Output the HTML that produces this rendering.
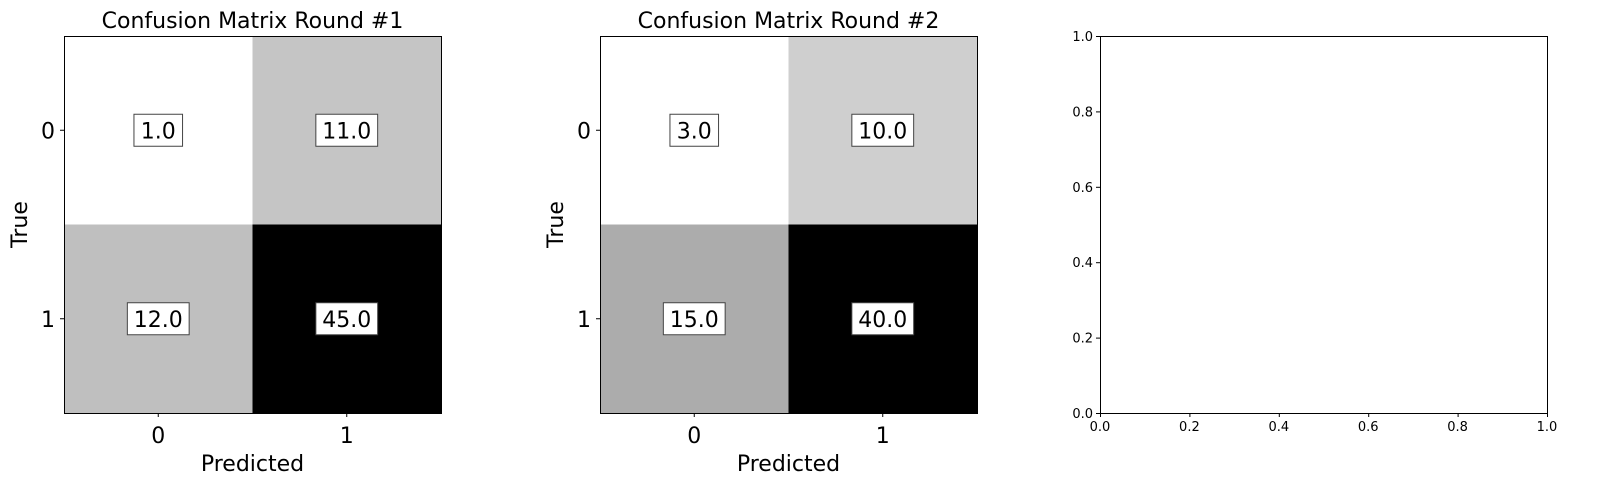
<!DOCTYPE html>
<html><head><meta charset="utf-8"><style>
body{margin:0;background:#fff;}
svg{display:block;font-family:"DejaVu Sans","Liberation Sans",sans-serif;}
</style></head><body>
<svg id="fig" width="1600" height="495" viewBox="0 0 1600 495" xmlns="http://www.w3.org/2000/svg"></svg>
<script>
const titles = ["Confusion Matrix Round #1", "Confusion Matrix Round #2"];
const classLabels = ["0", "1"];
const matrix1 = [[1, 11], [12, 45]];
const matrix2 = [[3, 10], [15, 40]];
const emptyTicks = [0.0, 0.2, 0.4, 0.6, 0.8, 1.0];

const NS = "http://www.w3.org/2000/svg";
const svg = document.getElementById("fig");
function mk(tag, attrs, parent, text) {
  const e = document.createElementNS(NS, tag);
  for (const k in attrs) e.setAttribute(k, attrs[k]);
  if (text !== undefined) e.textContent = text;
  (parent || svg).appendChild(e);
  return e;
}
const FS = 22;
function drawMatrix(m, title, x0, idx) {
  const y0 = 36, size = 377, n = m.length;
  const g = mk("g", {});
  
  
  const flat = m.flat();
  const mn = Math.min(...flat), mx = Math.max(...flat);
  const cell = size / n;
  const xs = c => x0 + (c + 0.5) * cell;
  const ys = r => y0 + (r + 0.5) * cell;
  for (let r = 0; r < n; r++) for (let c = 0; c < n; c++) {
    const t = (m[r][c] - mn) / (mx - mn);
    const v = Math.round(255 * (1 - t));
    const rect = mk("rect", {x: xs(c) - cell / 2, y: ys(r) - cell / 2, width: cell, height: cell, fill: `rgb(${v},${v},${v})`}, g);
    
    
  }
  for (let r = 0; r < n; r++) for (let c = 0; c < n; c++) {
    const label = m[r][c].toFixed(1);
    const w = label.length * 13.2 + 9;
    const box = mk("rect", {x: xs(c) - w / 2, y: ys(r) - 16, width: w, height: 32, fill: "#fff", stroke: "#444", "stroke-width": 1}, g);
    
    
    const tx = mk("text", {x: xs(c), y: ys(r) + 8, "font-size": FS, "text-anchor": "middle", fill: "#000"}, g, label);
    
    
  }
  const frame = mk("rect", {x: x0 + 0.5, y: y0 + 0.5, width: size, height: size, fill: "none", stroke: "#000", "stroke-width": 1}, g);
  
  
  classLabels.forEach((lab, i) => {
    mk("line", {x1: xs(i), x2: xs(i), y1: y0 + size, y2: y0 + size + 4, stroke: "#000"}, g);
    const xt = mk("text", {x: xs(i), y: y0 + size + 30, "font-size": FS, "text-anchor": "middle"}, g, lab);
    
    
    mk("line", {x1: x0 - 4, x2: x0, y1: ys(i), y2: ys(i), stroke: "#000"}, g);
    const yt = mk("text", {x: x0 - 9, y: ys(i) + 8, "font-size": FS, "text-anchor": "end"}, g, lab);
    
    
  });
  const tt = mk("text", {x: x0 + size / 2, y: 28, "font-size": FS, "text-anchor": "middle"}, g, title);
  
  
  const xl = mk("text", {x: x0 + size / 2, y: 471, "font-size": FS, "text-anchor": "middle"}, g, "Predicted");
  
  
  const yl = mk("text", {x: 0, y: 0, "font-size": FS, "text-anchor": "middle", transform: `translate(${x0 - 37},${y0 + size / 2}) rotate(-90)`}, g, "True");
  
  
}
drawMatrix(matrix1, titles[0], 64, 1);
drawMatrix(matrix2, titles[1], 600, 2);

(function () {
  const x0 = 1100, x1 = 1547, y0 = 36, y1 = 413;
  const g = mk("g", {});
  
  
  const xs = v => x0 + v * (x1 - x0);
  const ys = v => y1 - v * (y1 - y0);
  const fr = mk("rect", {x: x0 + 0.5, y: y0 + 0.5, width: x1 - x0, height: y1 - y0, fill: "none", stroke: "#000"}, g);
  
  
  emptyTicks.forEach(v => {
    mk("line", {x1: xs(v) + 0.5, x2: xs(v) + 0.5, y1: y1, y2: y1 + 4, stroke: "#000"}, g);
    const xt = mk("text", {x: xs(v), y: y1 + 18, "font-size": 13, "text-anchor": "middle"}, g, v.toFixed(1));
    
    
    mk("line", {x1: x0 - 4, x2: x0, y1: ys(v) + 0.5, y2: ys(v) + 0.5, stroke: "#000"}, g);
    const yt = mk("text", {x: x0 - 7, y: ys(v) + 5, "font-size": 13, "text-anchor": "end"}, g, v.toFixed(1));
    
    
  });
})();
</script>
</body></html>
